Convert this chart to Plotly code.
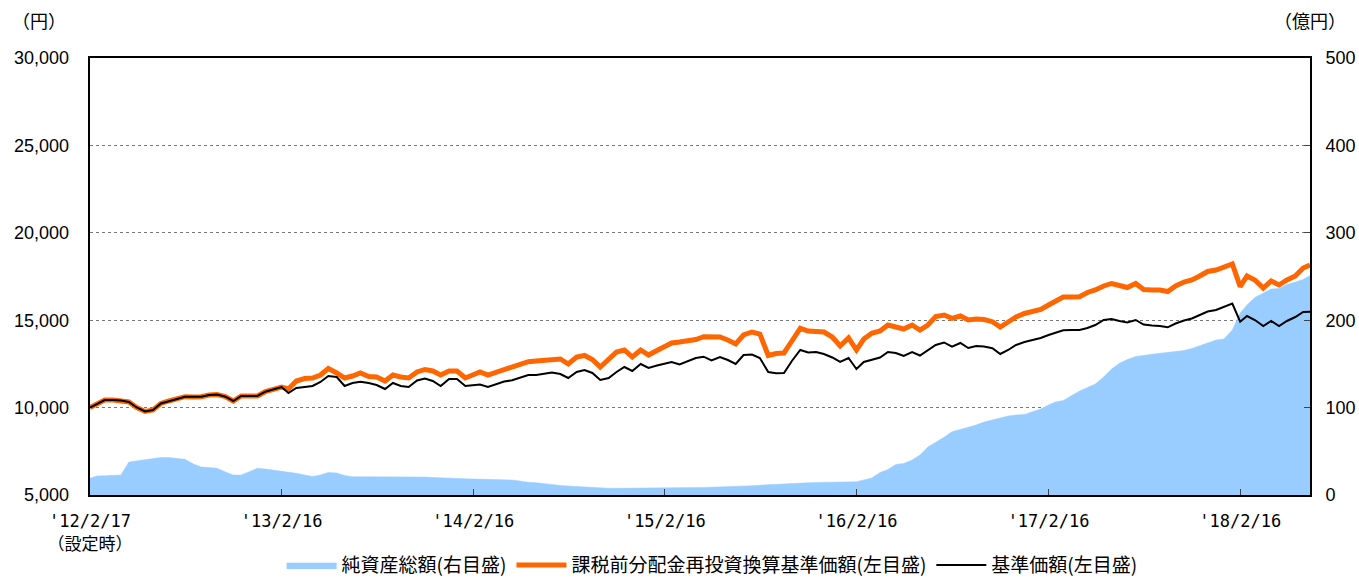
import plotly.graph_objects as go

dates = [
    "2012-02-17", "2012-03-01", "2012-03-16", "2012-04-01", "2012-04-16", "2012-05-01", "2012-05-16",
    "2012-06-01", "2012-06-16", "2012-07-01", "2012-07-16", "2012-08-01", "2012-08-16", "2012-09-01",
    "2012-09-16", "2012-10-01", "2012-10-16", "2012-11-01", "2012-11-16", "2012-12-01", "2012-12-16",
    "2013-01-01", "2013-01-16", "2013-02-01", "2013-02-16", "2013-03-01", "2013-03-16", "2013-04-01",
    "2013-04-16", "2013-05-01", "2013-05-16", "2013-06-01", "2013-06-16", "2013-07-01", "2013-07-16",
    "2013-08-01", "2013-08-16", "2013-09-01", "2013-09-16", "2013-10-01", "2013-10-16", "2013-11-01",
    "2013-11-16", "2013-12-01", "2013-12-16",
    "2014-01-01", "2014-01-16", "2014-02-01", "2014-02-16", "2014-03-01", "2014-03-16", "2014-04-01",
    "2014-04-16", "2014-05-01", "2014-05-16", "2014-06-01", "2014-06-16", "2014-07-01", "2014-07-16",
    "2014-08-01", "2014-08-16", "2014-09-01", "2014-09-16", "2014-10-01", "2014-10-16", "2014-11-01",
    "2014-11-16", "2014-12-01", "2014-12-16",
    "2015-01-01", "2015-01-16", "2015-02-01", "2015-02-16", "2015-03-01", "2015-03-16", "2015-04-01",
    "2015-04-16", "2015-05-01", "2015-05-16", "2015-06-01", "2015-06-16", "2015-07-01", "2015-07-16",
    "2015-08-01", "2015-08-16", "2015-09-01", "2015-09-16", "2015-10-01", "2015-10-16", "2015-11-01",
    "2015-11-16", "2015-12-01", "2015-12-16",
    "2016-01-01", "2016-01-16", "2016-02-01", "2016-02-16", "2016-03-01", "2016-03-16", "2016-04-01",
    "2016-04-16", "2016-05-01", "2016-05-16", "2016-06-01", "2016-06-16", "2016-07-01", "2016-07-16",
    "2016-08-01", "2016-08-16", "2016-09-01", "2016-09-16", "2016-10-01", "2016-10-16", "2016-11-01",
    "2016-11-16", "2016-12-01", "2016-12-16",
    "2017-01-01", "2017-01-16", "2017-02-01", "2017-02-16", "2017-03-01", "2017-03-16", "2017-04-01",
    "2017-04-16", "2017-05-01", "2017-05-16", "2017-06-01", "2017-06-16", "2017-07-01", "2017-07-16",
    "2017-08-01", "2017-08-16", "2017-09-01", "2017-09-16", "2017-10-01", "2017-10-16", "2017-11-01",
    "2017-11-16", "2017-12-01", "2017-12-16",
    "2018-01-01", "2018-01-16", "2018-02-01", "2018-02-16", "2018-03-01", "2018-03-16", "2018-04-01",
    "2018-04-16", "2018-05-01", "2018-05-16", "2018-06-01", "2018-06-16", "2018-06-29",
]

# 基準価額 (円)
nav = [
    10000, 10206, 10435, 10435, 10406, 10321, 10006, 9777, 9863, 10235, 10378, 10492, 10624, 10607,
    10624, 10721, 10750, 10624, 10378, 10664, 10664, 10664, 10910, 11064, 11179,
    10835, 11121, 11179, 11236, 11465, 11808, 11751, 11236, 11408, 11482, 11408, 11293, 11064, 11408,
    11236, 11179, 11550, 11665, 11522, 11236,
    11636, 11636, 11236, 11293, 11322, 11179, 11350, 11493, 11562, 11722, 11865, 11865, 11922, 12008,
    11922, 11694, 12037, 12151, 11980, 11579, 11694, 12037, 12323, 12094,
    12495, 12266, 12409, 12523, 12609, 12466, 12666, 12838, 12912, 12695, 12895, 12723, 12495, 13009,
    13038, 12838, 12037, 11963, 11980, 12666, 13295, 13152, 13181, 13067,
    12866, 12609, 12838, 12208, 12609, 12723, 12866, 13181, 13124, 12952, 13181, 12981, 13295, 13582,
    13725, 13484, 13696, 13410, 13524, 13496, 13393, 13067, 13295, 13582,
    13753, 13868, 13982, 14154, 14297, 14422, 14440, 14440, 14554, 14726, 15012, 15069, 14955, 14869,
    15012, 14754, 14697, 14668, 14594, 14811, 14983, 15098, 15298, 15498,
    15584, 15755, 15956, 14915, 15241, 15012, 14668, 14955, 14668, 14955, 15183, 15469, 15486,
]

# 課税前分配金再投資換算基準価額 (円)
nav_reinvested = [
    10000, 10206, 10435, 10435, 10406, 10321, 10006, 9777, 9863, 10235, 10378, 10492, 10624, 10607,
    10624, 10721, 10750, 10624, 10378, 10664, 10664, 10664, 10910, 11064, 11179,
    11064, 11522, 11665, 11694, 11865, 12237, 11980, 11694, 11808, 11980, 11779, 11751, 11522, 11865,
    11751, 11694, 12037, 12180, 12094, 11865,
    12094, 12094, 11694, 11865, 12037, 11865, 12037, 12180, 12323, 12466, 12626, 12666, 12723, 12752,
    12781, 12495, 12895, 12981, 12752, 12323, 12723, 13181, 13295, 12895,
    13295, 13009, 13267, 13467, 13696, 13753, 13810, 13896, 14056, 14056, 14039, 13868, 13639, 14154,
    14325, 14211, 12981, 13095, 13124, 13810, 14537, 14382, 14382, 14325,
    14039, 13524, 13982, 13295, 13925, 14251, 14382, 14726, 14611, 14497, 14726, 14440, 14726, 15212,
    15298, 15109, 15241, 15012, 15069, 15040, 14915, 14611, 14897, 15183,
    15384, 15469, 15612, 15870, 16070, 16328, 16328, 16345, 16585, 16728, 16957, 17100, 16985, 16871,
    17100, 16757, 16728, 16728, 16642, 16957, 17186, 17300, 17529, 17786,
    17872, 18044, 18216, 16917, 17529, 17300, 16842, 17243, 17014, 17300, 17529, 17987, 18158,
]

# 純資産総額 (億円)
net_assets = [
    19.1, 21.7, 22.0, 22.3, 22.9, 37.8, 38.9, 40.6, 41.8, 42.9, 42.9, 41.8, 40.8, 35.5,
    32.0, 31.5, 30.5, 26.3, 22.9, 22.9, 26.3, 30.5, 29.7, 28.6, 27.5,
    26.3, 24.8, 22.9, 21.2, 22.9, 25.7, 25.2, 22.3, 20.9, 20.9, 20.9, 20.6, 20.3, 20.4,
    20.6, 20.6, 20.9, 20.6, 20.0, 19.5,
    19.1, 18.9, 18.6, 18.3, 18.3, 18.0, 17.6, 17.4, 17.2, 16.0, 14.5, 14.1, 12.9, 12.0,
    10.9, 10.3, 9.7, 9.2, 8.6, 7.7, 7.7, 7.7, 7.7, 7.7,
    7.7, 7.7, 7.7, 7.7, 7.8, 8.0, 8.2, 8.5, 8.7, 8.9, 9.2, 9.4, 9.5, 10.1,
    10.6, 11.2, 11.8, 12.4, 12.9, 13.4, 13.5, 14.0, 14.3, 14.6,
    14.9, 15.1, 15.2, 15.2, 17.2, 19.5, 25.7, 29.2, 34.9, 36.0, 40.0, 45.8, 54.9, 60.1,
    66.1, 72.4, 74.9, 77.8, 80.1, 83.5, 85.8, 88.7, 90.4, 91.5,
    92.1, 95.3, 98.4, 103.0, 106.4, 108.1, 114.2, 119.0, 123.0, 127.0, 135.0, 144.2, 150.7, 155.0,
    158.5, 160.0, 161.0, 162.1, 163.0, 164.0, 165.3, 167.6, 170.5, 173.9,
    177.3, 178.5, 188.8, 208.2, 217.4, 226.0, 231.1, 235.7, 236.3, 240.8, 243.7, 246.6, 251.1,
]

x_tick_vals = ["2012-02-17", "2013-02-16", "2014-02-16", "2015-02-16", "2016-02-16", "2017-02-16", "2018-02-16"]
x_tick_text = ["'12/2/17<br>（設定時）", "'13/2/16", "'14/2/16", "'15/2/16", "'16/2/16", "'17/2/16", "'18/2/16"]
left_tick_vals = [5000, 10000, 15000, 20000, 25000, 30000]
left_tick_text = ["5,000", "10,000", "15,000", "20,000", "25,000", "30,000"]
right_tick_vals = [0, 100, 200, 300, 400, 500]

series_names = ["純資産総額(右目盛)", "課税前分配金再投資換算基準価額(左目盛)", "基準価額(左目盛)"]

NUM_FONT = "Liberation Sans, Arial, sans-serif"
JP_FONT = "Noto Sans CJK JP, sans-serif"

fig = go.Figure()
fig.add_trace(go.Scatter(
    x=dates, y=net_assets, name=series_names[0], mode="lines",
    fill="tozeroy", fillcolor="#99CCFF", line=dict(color="#99CCFF", width=0.5),
    yaxis="y",
))
fig.add_trace(go.Scatter(
    x=dates, y=nav_reinvested, name=series_names[1], mode="lines",
    line=dict(color="#FF6600", width=5), yaxis="y2",
))
fig.add_trace(go.Scatter(
    x=dates, y=nav, name=series_names[2], mode="lines",
    line=dict(color="#000000", width=2), yaxis="y2",
))

fig.update_layout(
    width=1359, height=579,
    margin=dict(l=90, r=49, t=58, b=84, autoexpand=False),
    paper_bgcolor="white", plot_bgcolor="white",
    font=dict(family=JP_FONT, color="black"),
    xaxis=dict(
        type="date", range=["2012-02-17", "2018-06-29"],
        tickvals=x_tick_vals, ticktext=x_tick_text,
        ticks="inside", ticklen=6, tickcolor="#444", tickwidth=1,
        showgrid=False, zeroline=False, automargin=False,
        showline=True, mirror=True, linecolor="black", linewidth=2,
        tickfont=dict(family="DejaVu Sans Mono, Noto Sans CJK JP", size=17, color="black"),
        ticklabelstandoff=10,
    ),
    yaxis=dict(
        side="right", range=[0, 500], tickvals=right_tick_vals,
        ticks="inside", ticklen=6, tickcolor="#444", automargin=False,
        showgrid=True, gridcolor="#777", griddash="dot", gridwidth=1,
        zeroline=False, showline=True, mirror=True, linecolor="black", linewidth=2,
        tickfont=dict(family=NUM_FONT, size=18, color="black"),
        ticklabelstandoff=10,
    ),
    yaxis2=dict(
        overlaying="y", side="left", range=[5000, 30000],
        tickvals=left_tick_vals, ticktext=left_tick_text, automargin=False,
        ticks="", showgrid=False, zeroline=False, showline=False,
        tickfont=dict(family=NUM_FONT, size=18, color="black"),
        ticklabelstandoff=20,
    ),
    legend=dict(
        orientation="h", x=0.524, xanchor="center", xref="container",
        y=0.024, yanchor="middle", yref="container",
        font=dict(family=JP_FONT, size=19, color="black"),
        itemwidth=50, traceorder="normal", bgcolor="rgba(0,0,0,0)",
    ),
    annotations=[
        dict(text="（円）", xref="paper", yref="paper", x=-0.042, y=1.087,
             xanchor="center", yanchor="middle", showarrow=False,
             font=dict(family=JP_FONT, size=18, color="black")),
        dict(text="（億円）", xref="paper", yref="paper", x=1.031, y=1.087,
             xanchor="right", yanchor="middle", showarrow=False,
             font=dict(family=JP_FONT, size=18, color="black")),
    ],
)

fig.write_html(
    "out.html",
    config={"displayModeBar": False},
    post_script="document.body.style.margin='0';document.body.style.padding='0';",
)
